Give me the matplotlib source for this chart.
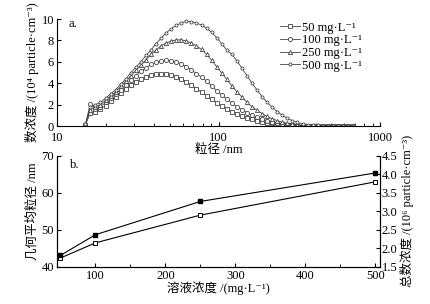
import matplotlib
matplotlib.use('Agg')
import matplotlib.pyplot as plt

plt.rcParams['font.family'] = ['Liberation Serif', 'DejaVu Serif', 'Noto Sans CJK SC']
plt.rcParams['font.size'] = 9

# (a) size distribution, diameter in nm, number conc. in 1e4 particle/cm3
diam = [15.0, 16.1, 17.3, 18.6, 20.0, 21.5, 23.1, 24.8, 26.7, 28.7, 30.8, 33.1,
        35.6, 38.2, 41.1, 44.1, 47.4, 51.0, 54.8, 58.9, 63.2, 68.0, 73.0, 78.5,
        84.3, 90.6, 97.4, 104.7, 112.5, 120.9, 129.9, 139.6, 150.0, 161.2, 173.2,
        186.1, 200.0, 214.9, 231.0, 248.2, 266.7, 286.6, 308.0, 331.0, 355.6,
        382.2, 410.7, 441.3, 474.2, 509.6, 547.6, 588.5, 632.4, 679.6]

conc_50 = [0.1, 1.2, 1.3, 1.6, 1.9, 2.3, 2.7, 3.1, 3.5, 3.85, 4.15, 4.4,
           4.6, 4.75, 4.82, 4.85, 4.83, 4.75, 4.6, 4.4, 4.15, 3.85, 3.5, 3.15,
           2.85, 2.5, 2.15, 1.85, 1.58, 1.33, 1.12, 0.93, 0.76, 0.62, 0.5,
           0.4, 0.31, 0.24, 0.18, 0.13, 0.09, 0.06, 0.04, 0.03, 0.02,
           0.02, 0.01, 0.01, 0.01, 0.0, 0.0, 0.0, 0.0, 0.0]
conc_100 = [0.1, 2.1, 1.6, 1.8, 2.2, 2.6, 3.0, 3.4, 3.85, 4.3, 4.7, 5.1,
            5.45, 5.75, 5.95, 6.1, 6.15, 6.1, 6.0, 5.8, 5.55, 5.25, 4.9, 4.55,
            4.2, 3.75, 3.3, 2.9, 2.5, 2.15, 1.82, 1.52, 1.25, 1.02, 0.82,
            0.65, 0.5, 0.38, 0.28, 0.2, 0.14, 0.09, 0.06, 0.04, 0.03,
            0.02, 0.02, 0.01, 0.01, 0.01, 0.0, 0.0, 0.0, 0.0]
conc_250 = [0.1, 1.5, 1.8, 2.0, 2.4, 2.8, 3.2, 3.7, 4.2, 4.7, 5.2, 5.7,
            6.2, 6.7, 7.1, 7.5, 7.75, 7.95, 8.05, 8.05, 7.95, 7.75, 7.5, 7.15,
            6.7, 6.15, 5.55, 4.95, 4.35, 3.75, 3.2, 2.7, 2.2, 1.8, 1.45,
            1.15, 0.9, 0.68, 0.5, 0.36, 0.25, 0.17, 0.11, 0.07, 0.04,
            0.03, 0.02, 0.02, 0.01, 0.01, 0.01, 0.0, 0.0, 0.0]
conc_500 = [0.2, 1.8, 2.0, 2.2, 2.6, 3.0, 3.4, 3.9, 4.4, 5.0, 5.5, 6.0,
            6.6, 7.1, 7.7, 8.2, 8.7, 9.1, 9.4, 9.65, 9.8, 9.75, 9.6, 9.45,
            9.15, 8.75, 8.25, 7.7, 7.1, 6.7, 6.1, 5.4, 4.7, 4.0, 3.35,
            2.75, 2.2, 1.75, 1.35, 1.0, 0.72, 0.5, 0.33, 0.22, 0.14,
            0.09, 0.06, 0.04, 0.03, 0.02, 0.02, 0.01, 0.01, 0.0]

series_labels = ['50 mg·L⁻¹', '100 mg·L⁻¹', '250 mg·L⁻¹', '500 mg·L⁻¹']

# (b) summary vs solution concentration
sol_conc = [50, 100, 250, 500]
gmd = [42.4, 46.5, 54.0, 63.0]          # nm
total_conc = [1.81, 2.37, 3.27, 4.04]   # 1e6 particle/cm3

fig = plt.figure(figsize=(4.31, 3.04), dpi=100)
ax1 = fig.add_axes([0.132, 0.5855, 0.750, 0.352])
ax2 = fig.add_axes([0.132, 0.122, 0.750, 0.365])

styles = [('s', 3.0), ('o', 3.0), ('^', 3.0), ('o', 2.2)]
for ys, lab, (mk, ms) in zip([conc_50, conc_100, conc_250, conc_500], series_labels, styles):
    ax1.plot(diam, ys, color='#444444', lw=0.6, marker=mk, ms=ms, mfc='white',
             mec='#444444', mew=0.6, label=lab)

ax1.set_xscale('log')
ax1.set_xlim(10, 1000)
ax1.set_ylim(0, 10)
ax1.set_yticks([0, 2, 4, 6, 8, 10])
ax1.set_xticks([10, 100, 1000])
ax1.set_xticklabels(['10', '100', '1000'])
ax1.spines['top'].set_visible(False)
ax1.spines['right'].set_visible(False)
ax1.tick_params(direction='in', which='both', length=3, pad=2)
ax1.tick_params(axis='x', pad=4)
ax1.tick_params(which='minor', length=2)
ax1.set_xlabel('粒径 /nm', labelpad=0)
ax1.set_ylabel('数浓度 /(10⁴ particle·cm⁻³)', labelpad=2)
ax1.text(0.035, 1.01, 'a.', transform=ax1.transAxes, va='top', ha='left')
ax1.legend(loc='upper right', bbox_to_anchor=(0.96, 1.02), frameon=False,
           handlelength=1.6, handletextpad=0.2, labelspacing=0.05,
           borderaxespad=0, fontsize=9)

ax2.plot(sol_conc, gmd, color='black', lw=0.8, marker='s', ms=3.5,
         mfc='white', mec='black', mew=0.7)
ax2.set_xlim(45, 507)
ax2.set_ylim(40, 70)
ax2.set_xticks([100, 200, 300, 400, 500])
ax2.set_xticks([150, 250, 350, 450], minor=True)
ax2.set_yticks([40, 50, 60, 70])
ax2.spines['top'].set_visible(False)
ax2.tick_params(direction='in', which='both', length=3, pad=2)
ax2.tick_params(which='minor', length=2)
ax2.set_xlabel('溶液浓度 /(mg·L⁻¹)', labelpad=0)
ax2.set_ylabel('几何平均粒径 /nm', labelpad=2)
ax2.text(0.04, 0.97, 'b.', transform=ax2.transAxes, va='top', ha='left')

ax3 = ax2.twinx()
ax3.plot(sol_conc, total_conc, color='black', lw=0.8, marker='s', ms=3.5,
         mfc='black', mec='black')
ax3.set_ylim(1.5, 4.5)
ax3.set_yticks([1.5, 2.0, 2.5, 3.0, 3.5, 4.0, 4.5])
ax3.spines['top'].set_visible(False)
ax3.tick_params(direction='in', length=3, pad=1)
ax3.set_ylabel('总数浓度 /(10⁶ particle·cm⁻³)', labelpad=2)

fig.savefig('out.png', dpi=100)
